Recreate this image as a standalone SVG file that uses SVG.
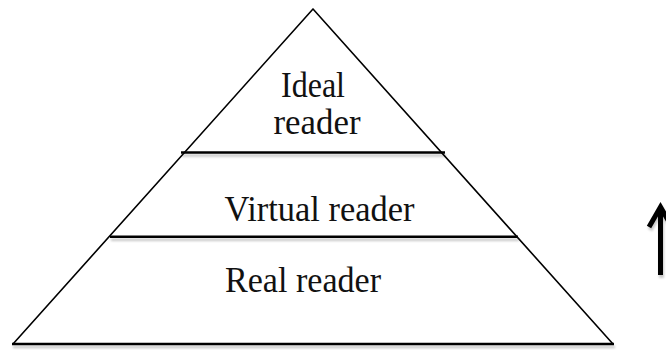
<svg xmlns="http://www.w3.org/2000/svg" width="666" height="350" viewBox="0 0 666 350">
  <style>
    .edge { fill: none; stroke: #000; stroke-width: 1.6; stroke-linecap: round; }
    .tier { fill: none; stroke: #000; stroke-width: 2.6; }
    .shade { filter: url(#shadow); }
    .label { font-family: "Liberation Serif", "Times New Roman", serif; font-size: 36px; fill: #111; text-anchor: middle; }
  </style>
  <defs>
    <filter id="shadow" filterUnits="userSpaceOnUse" x="0" y="0" width="666" height="350">
      <feDropShadow dx="1" dy="3" stdDeviation="1.2" flood-color="#000" flood-opacity="0.22"/>
    </filter>
  </defs>

  <rect width="666" height="350" fill="#fff"/>

  <!-- pyramid outline -->
  <g id="pyramid">
    <path class="edge" d="M313 9 L13 344 M313 9 L613 344"/>
    <line class="tier shade" x1="12" y1="344" x2="614" y2="344" stroke-width="2.2"/>
  </g>

  <!-- tier dividers -->
  <g id="dividers" class="shade">
    <line class="tier" x1="181" y1="152.5" x2="445" y2="152.5"/>
    <line class="tier" x1="110" y1="236.7" x2="518" y2="236.7"/>
  </g>

  <g id="ideal-reader">
    <text class="label" x="313" y="97" textLength="64" lengthAdjust="spacingAndGlyphs">Ideal</text>
    <text class="label" x="317" y="134" textLength="87" lengthAdjust="spacingAndGlyphs">reader</text>
  </g>

  <g id="virtual-reader">
    <text class="label" x="319.5" y="221" textLength="190" lengthAdjust="spacingAndGlyphs">Virtual reader</text>
  </g>

  <g id="real-reader">
    <text class="label" x="303" y="292" textLength="156" lengthAdjust="spacingAndGlyphs">Real reader</text>
  </g>

  <!-- upward arrow at the right edge -->
  <g id="connectors" class="shade">
    <path d="M660.5 275 L660.5 209" fill="none" stroke="#000" stroke-width="5"/>
    <path d="M649 227 L660.5 207 L672 227" fill="none" stroke="#000" stroke-width="5" stroke-linejoin="miter"/>
  </g>
</svg>
